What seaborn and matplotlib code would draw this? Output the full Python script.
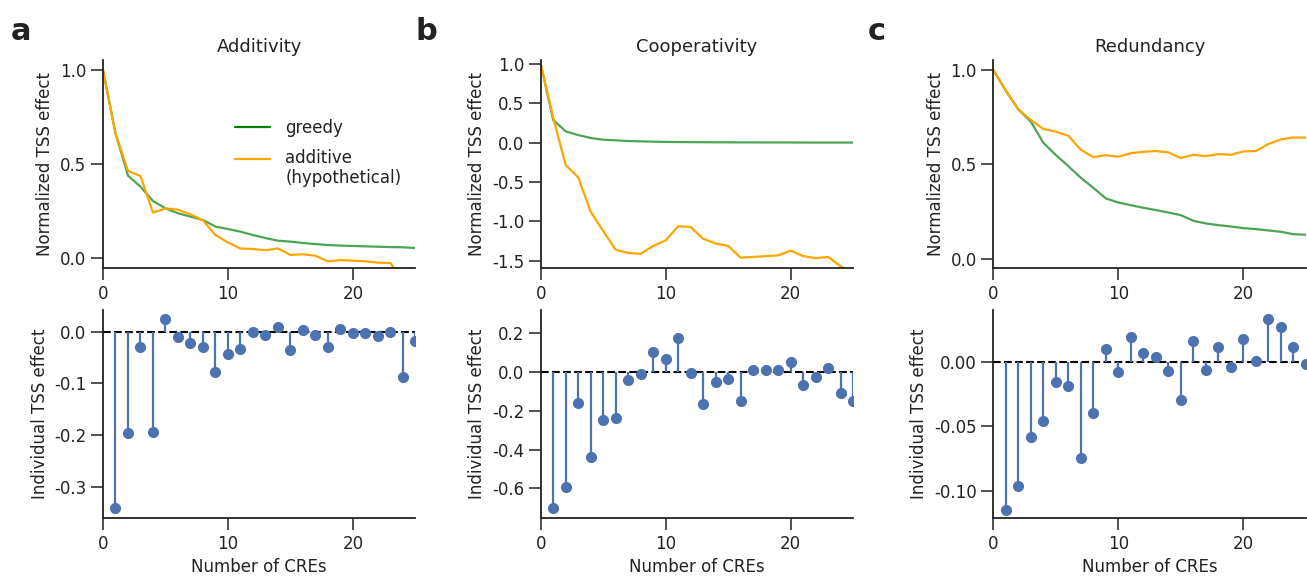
import numpy as np
import seaborn as sns
import matplotlib.pyplot as plt
from matplotlib.lines import Line2D
from matplotlib.legend_handler import HandlerLine2D

# number of CREs removed
n_cre = list(range(0, 26))
n_ind = list(range(1, 26))

# additivity
add_greedy = [1.0, 0.663, 0.438, 0.379, 0.303, 0.264, 0.238, 0.22, 0.202, 0.167, 0.154,
              0.14, 0.122, 0.106, 0.092, 0.087, 0.08, 0.074, 0.069, 0.066, 0.064,
              0.062, 0.06, 0.058, 0.057, 0.053]
add_additive = [1.0, 0.663, 0.463, 0.436, 0.241, 0.264, 0.257, 0.232, 0.2, 0.122, 0.082,
                0.05, 0.048, 0.041, 0.051, 0.016, 0.02, 0.012, -0.018, -0.011, -0.014,
                -0.018, -0.025, -0.027, -0.12, -0.13]
add_ind = [-0.341, -0.196, -0.029, -0.193, 0.024, -0.0096, -0.021, -0.029, -0.078, -0.043,
           -0.033, -0.001, -0.006, 0.010, -0.035, 0.003, -0.006, -0.030, 0.006, -0.003,
           -0.003, -0.008, -0.001, -0.087, -0.017]

# cooperativity
coop_greedy = [1.0, 0.288, 0.144, 0.097, 0.059, 0.038, 0.03, 0.021, 0.017, 0.013, 0.01,
               0.008, 0.007, 0.006, 0.005, 0.005, 0.004, 0.004, 0.003, 0.003, 0.003,
               0.002, 0.002, 0.002, 0.002, 0.002]
coop_additive = [1.0, 0.32, -0.284, -0.44, -0.877, -1.12, -1.36, -1.40, -1.41, -1.31, -1.24,
                 -1.06, -1.07, -1.22, -1.28, -1.31, -1.46, -1.45, -1.44, -1.43, -1.37,
                 -1.44, -1.465, -1.45, -1.57, -1.65]
coop_ind = [-0.70, -0.595, -0.161, -0.437, -0.247, -0.237, -0.039, -0.010, 0.105, 0.065,
            0.177, -0.007, -0.163, -0.053, -0.034, -0.151, 0.009, 0.009, 0.012, 0.053,
            -0.067, -0.024, 0.02, -0.11, -0.15]

# redundancy
red_greedy = [1.0, 0.89, 0.791, 0.726, 0.614, 0.549, 0.49, 0.428, 0.375, 0.319, 0.297,
              0.283, 0.269, 0.257, 0.244, 0.23, 0.2, 0.186, 0.177, 0.17, 0.161,
              0.156, 0.149, 0.142, 0.129, 0.126]
red_additive = [1.0, 0.89, 0.791, 0.735, 0.687, 0.673, 0.651, 0.577, 0.538, 0.548, 0.54,
                0.559, 0.566, 0.57, 0.563, 0.533, 0.55, 0.543, 0.554, 0.55, 0.568,
                0.57, 0.607, 0.632, 0.642, 0.641]
red_ind = [-0.1145, -0.0964, -0.0584, -0.0457, -0.0156, -0.0192, -0.0745, -0.0397, 0.0101,
           -0.0078, 0.0192, 0.007, 0.0034, -0.007, -0.0299, 0.0158, -0.0062, 0.0114,
           -0.0042, 0.0179, 0.0008, 0.0332, 0.027, 0.0117, -0.002]

titles = ["Additivity", "Cooperativity", "Redundancy"]
letters = ["a", "b", "c"]


class TopLineHandler(HandlerLine2D):
    # put the legend line level with the first line of a two-line label
    def create_artists(self, legend, orig_handle, xdescent, ydescent, width, height,
                       fontsize, trans):
        arts = super().create_artists(legend, orig_handle, xdescent, ydescent, width,
                                      height, fontsize, trans)
        for a in arts:
            a.set_ydata([y + 0.6 * fontsize for y in a.get_ydata()])
        return arts


sns.set_theme(style="ticks")
plt.rcParams["font.family"] = ["DejaVu Sans"]
plt.rcParams.update({
    "axes.linewidth": 1.3,
    "xtick.major.size": 8.5, "ytick.major.size": 8.5,
    "xtick.major.width": 1.1, "ytick.major.width": 1.1,
    "xtick.labelsize": 12, "ytick.labelsize": 12,
    "axes.labelsize": 12, "axes.titlesize": 13,
    "axes.edgecolor": "#222222", "xtick.color": "#222222", "ytick.color": "#222222",
    "text.color": "#222222", "axes.labelcolor": "#222222",
})

fig = plt.figure(figsize=(13.07, 5.8), dpi=100)

greedy_c = "#4ca454"
add_c = "orange"
stem_c = "#4c72b0"

panels = [
    (add_greedy, add_additive, add_ind, (-0.053, 1.053), (-0.36, 0.042), [0.0, 0.5, 1.0], [-0.3, -0.2, -0.1, 0.0], "%.1f"),
    (coop_greedy, coop_additive, coop_ind, (-1.59, 1.05), (-0.753, 0.32), [-1.5, -1.0, -0.5, 0.0, 0.5, 1.0], [-0.6, -0.4, -0.2, 0.0, 0.2], "%.1f"),
    (red_greedy, red_additive, red_ind, (-0.05, 1.053), (-0.121, 0.040), [0.0, 0.5, 1.0], [-0.10, -0.05, 0.0], "%.2f"),
]
lefts = [0.0788, 0.4137, 0.760]
w = 0.2391
letter_x = [0.008, 0.318, 0.664]

for i, (g, a, ind, ylim_top, ylim_bot, yt_top, yt_bot, fmt) in enumerate(panels):
    ax1 = fig.add_axes([lefts[i], 0.538, w, 0.3586])
    ax2 = fig.add_axes([lefts[i], 0.1069, w, 0.3586])

    sns.lineplot(x=n_cre, y=g, ax=ax1, color=greedy_c, lw=1.6)
    sns.lineplot(x=n_cre, y=a, ax=ax1, color=add_c, lw=1.6)
    ax1.set_xlim(0, 25)
    ax1.set_ylim(*ylim_top)
    ax1.set_yticks(yt_top)
    ax1.set_xticks([0, 10, 20])
    ax1.yaxis.set_major_formatter(plt.FormatStrFormatter("%.1f"))
    ax1.set_ylabel("Normalized TSS effect")
    ax1.set_title(titles[i])
    sns.despine(ax=ax1)

    ax2.axhline(0, color="black", ls="--", lw=1.5, zorder=1)
    ml, sl, bl = ax2.stem(n_ind, ind, linefmt="-", markerfmt="o", basefmt=" ")
    plt.setp(sl, color=stem_c, lw=1.6)
    plt.setp(ml, color=stem_c, markersize=7)
    ax2.set_xlim(0, 25)
    ax2.set_ylim(*ylim_bot)
    ax2.set_yticks(yt_bot)
    ax2.set_xticks([0, 10, 20])
    ax2.yaxis.set_major_formatter(plt.FormatStrFormatter(fmt))
    ax2.set_ylabel("Individual TSS effect")
    ax2.set_xlabel("Number of CREs")
    sns.despine(ax=ax2)

    fig.text(letter_x[i], 0.931, letters[i], fontsize=22, fontweight="bold", va="baseline")

    if i == 0:
        h_greedy = Line2D([], [], color="green", lw=1.6)
        h_add = Line2D([], [], color=add_c, lw=1.6)
        ax1.legend([h_greedy, h_add], ["greedy", "additive\n(hypothetical)"], frameon=False,
                   loc="upper left", bbox_to_anchor=(0.376, 0.79), fontsize=12,
                   handlelength=2.1, handletextpad=0.9, labelspacing=0.72,
                   handler_map={h_add: TopLineHandler()})

fig.savefig("out.png", dpi=100)
